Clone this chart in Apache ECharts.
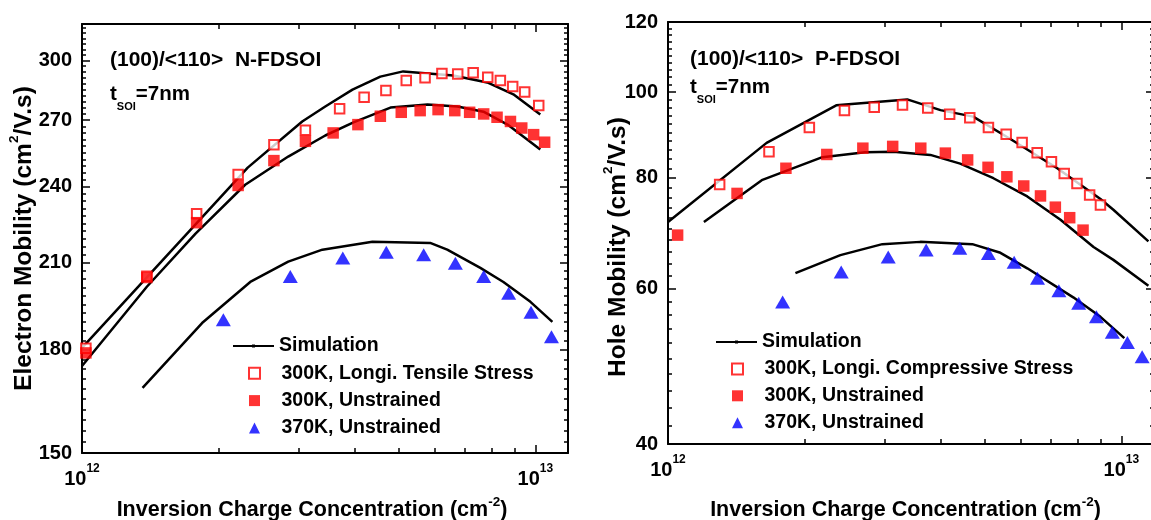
<!DOCTYPE html>
<html>
<head>
<meta charset="utf-8">
<script src="https://cdn.jsdelivr.net/npm/echarts@6/dist/echarts.min.js"></script>
<style>
html, body { margin: 0; padding: 0; background: #fff; }
#chart { width: 1151px; height: 520px; }
</style>
</head>
<body>
<div id="chart"></div>
<script>
const FONT = '"Liberation Sans", Arial, Helvetica, sans-serif';
const E12 = 1e12;   // x values below are in units of 10^12 cm^-2

// ---- (100)/<110> N-FDSOI, electron mobility (cm^2/V.s) ----
const nTensileX = [1.02, 1.39, 1.79, 2.21, 2.65, 3.11, 3.70, 4.19, 4.68, 5.19, 5.71, 6.22, 6.74, 7.29, 7.85, 8.37, 8.91, 9.47, 10.17];
const nTensileY = [180.5, 205.0, 228.9, 245.3, 258.5, 265.2, 275.5, 281.2, 284.6, 289.6, 291.0, 293.2, 293.0, 293.6, 291.3, 289.6, 286.6, 283.8, 277.1];
const nUnstrX = [1.02, 1.39, 1.79, 2.21, 2.65, 3.11, 3.58, 4.06, 4.55, 5.06, 5.57, 6.10, 6.64, 7.16, 7.69, 8.23, 8.81, 9.33, 9.91, 10.48];
const nUnstrY = [179.0, 204.5, 225.3, 240.6, 251.4, 260.1, 264.0, 267.9, 271.9, 273.8, 274.6, 275.1, 274.6, 273.8, 273.0, 271.4, 269.4, 266.3, 263.2, 259.7];
const n370X = [2.05, 2.88, 3.76, 4.69, 5.67, 6.66, 7.69, 8.73, 9.78, 10.85];
const n370Y = [189.8, 204.9, 211.7, 213.8, 212.9, 209.7, 204.9, 198.9, 192.3, 184.2];
const nSimTensileX = [1.00, 2.32, 3.06, 3.44, 3.95, 4.55, 5.11, 6.59, 7.83, 8.94, 10.25];
const nSimTensileY = [180.6, 248.3, 269.4, 276.6, 285.0, 291.6, 294.3, 292.2, 288.6, 282.6, 272.7];
const nSimUnstrX = [1.00, 1.39, 1.78, 2.29, 2.85, 3.44, 3.97, 4.79, 5.78, 6.73, 7.68, 8.68, 10.25];
const nSimUnstrY = [174.9, 201.2, 221.0, 240.9, 253.2, 262.8, 269.0, 276.1, 277.6, 276.6, 274.1, 267.9, 256.4];
const nSim370X = [1.36, 1.84, 2.35, 2.85, 3.39, 4.37, 5.86, 6.39, 7.56, 8.50, 9.75, 10.90];
const nSim370Y = [168.3, 188.7, 202.9, 210.3, 214.8, 217.8, 217.4, 214.8, 208.0, 202.9, 195.9, 189.1];

// ---- (100)/<110> P-FDSOI, hole mobility (cm^2/V.s) ----
const pCompX = [1.30, 1.67, 2.05, 2.45, 2.85, 3.29, 3.74, 4.18, 4.63, 5.09, 5.57, 6.04, 6.52, 7.01, 7.48, 7.98, 8.51, 8.99];
const pCompY = [78.6, 85.6, 91.2, 95.3, 96.1, 96.7, 95.9, 94.4, 93.5, 91.2, 89.6, 87.7, 85.4, 83.4, 80.9, 78.8, 76.5, 74.5];
const pUnstrX = [1.05, 1.42, 1.82, 2.24, 2.69, 3.13, 3.61, 4.09, 4.58, 5.08, 5.59, 6.09, 6.63, 7.15, 7.69, 8.23];
const pUnstrY = [68.9, 76.8, 82.0, 85.0, 86.4, 86.8, 86.4, 85.3, 83.8, 82.2, 80.2, 78.3, 76.3, 74.1, 72.1, 69.8];
const p370X = [1.79, 2.41, 3.06, 3.71, 4.40, 5.09, 5.80, 6.53, 7.28, 8.05, 8.81, 9.55, 10.31, 11.11];
const p370Y = [57.9, 62.6, 65.1, 66.3, 66.6, 65.7, 64.2, 61.6, 59.6, 57.7, 55.7, 53.5, 52.1, 50.2];
const pSimCompX = [1.00, 1.65, 2.35, 3.37, 3.99, 4.71, 5.69, 7.22, 8.99, 9.60, 11.47];
const pSimCompY = [71.3, 87.6, 96.6, 98.1, 95.4, 93.8, 88.5, 82.0, 75.7, 73.6, 67.8];
const pSimUnstrX = [1.20, 1.61, 2.19, 2.72, 3.14, 3.79, 4.41, 5.22, 6.20, 7.34, 8.68, 9.60, 11.47];
const pSimUnstrY = [71.3, 79.5, 84.4, 85.5, 85.6, 84.9, 83.0, 79.9, 76.2, 71.7, 66.8, 64.6, 60.4];
const pSim370X = [1.91, 2.40, 2.97, 3.60, 4.69, 5.41, 6.20, 7.83, 8.99, 10.15];
const pSim370Y = [62.4, 65.4, 67.3, 67.7, 67.3, 65.8, 63.2, 58.6, 55.7, 52.7];

// ---- axis ranges and tick labels ----
const xRange = [1e12, 1.18e13];
const xLabelVals = [1e12, 1e13];
const xMinorVals = [2e12, 3e12, 4e12, 5e12, 6e12, 7e12, 8e12, 9e12];
const nYRange = [150, 320];
const nYLabelVals = [150, 180, 210, 240, 270, 300];
const nYMinorStep = 3;
const pYRange = [40, 120];
const pYLabelVals = [40, 60, 80, 100, 120];
const pYMinorStep = 2;

const lg = Math.log10;
const BLACK = '#000';

function pairs(xs, ys) { return xs.map((x, i) => [x * E12, ys[i]]); }
function stepVals(range, step, skip) {
  const out = [];
  for (let v = range[0] + step; v <= range[1] + 1e-9; v += step) {
    if (skip.indexOf(v) < 0) out.push(v);
  }
  return out;
}

const txt = (size, extra) => Object.assign({ fontFamily: FONT, fontWeight: 'bold', fontSize: size, color: BLACK }, extra || {});

// Tick-only axis in log10 space, carrying the labelled ticks of a log axis.
function tickAxis(gridIndex, position, range, ticks, len, labels, labelOpts, showLine) {
  return {
    type: 'value', gridIndex, position,
    min: lg(range[0]), max: lg(range[1]),
    silent: true,
    axisLine: { show: !!showLine, onZero: false, lineStyle: { color: BLACK, width: 2 } },
    splitLine: { show: false },
    axisTick: { show: true, inside: true, length: len, customValues: ticks.map(lg),
      lineStyle: { color: BLACK, width: 1.5 } },
    axisLabel: labels ? Object.assign({ show: true, customValues: labels.map(lg) }, labelOpts)
                      : { show: false }
  };
}

const xLabelOpts = {
  margin: 10,
  formatter: v => '{b|10}{s|' + Math.round(v) + '}',
  rich: {
    b: txt(20, { verticalAlign: 'bottom', lineHeight: 26 }),
    s: txt(12, { verticalAlign: 'top', lineHeight: 12 })
  }
};
const yLabelOpts = {
  margin: 10,
  formatter: v => String(Math.round(Math.pow(10, v))),
  ...txt(20)
};

const titleRich = size => ({
  a: txt(size, { verticalAlign: 'bottom', lineHeight: size + 5 }),
  s: txt(13.5, { verticalAlign: 'top', lineHeight: 13 })
});

function xAxesFor(gridIndex, nameGap, padRight) {
  return [
    {
      type: 'log', logBase: 10, gridIndex, position: 'bottom',
      min: xRange[0], max: xRange[1],
      axisLine: { show: true, onZero: false, lineStyle: { color: BLACK, width: 2 } },
      axisTick: { show: false }, axisLabel: { show: false }, splitLine: { show: false },
      name: '{a|Inversion Charge Concentration (cm}{s|-2}{a|)}',
      nameLocation: 'middle', nameGap,
      nameTextStyle: { padding: [0, padRight, 0, 0], rich: titleRich(21.5) }
    },
    tickAxis(gridIndex, 'bottom', xRange, xMinorVals, 5, xLabelVals, xLabelOpts, false),
    tickAxis(gridIndex, 'bottom', xRange, xLabelVals, 8, null, null, false),
    tickAxis(gridIndex, 'top', xRange, xMinorVals, 5, null, null, true),
    tickAxis(gridIndex, 'top', xRange, xLabelVals, 8, null, null, false)
  ];
}

function yAxesFor(gridIndex, range, labelVals, minorStep, name, nameGap, padRight) {
  const minor = stepVals(range, minorStep, labelVals);
  return [
    {
      type: 'log', logBase: 10, gridIndex, position: 'left',
      min: range[0], max: range[1],
      axisLine: { show: true, onZero: false, lineStyle: { color: BLACK, width: 2 } },
      axisTick: { show: false }, axisLabel: { show: false }, splitLine: { show: false },
      name, nameLocation: 'middle', nameGap,
      nameTextStyle: { padding: [0, padRight, 0, 0], rich: titleRich(24.5) }
    },
    tickAxis(gridIndex, 'left', range, minor, 4, labelVals, yLabelOpts, false),
    tickAxis(gridIndex, 'left', range, labelVals, 8, null, null, false),
    tickAxis(gridIndex, 'right', range, minor, 4, null, null, true),
    tickAxis(gridIndex, 'right', range, labelVals, 8, null, null, false)
  ];
}

function simLine(gridIndex, xs, ys) {
  return {
    name: 'Simulation', type: 'line', xAxisIndex: gridIndex * 5, yAxisIndex: gridIndex * 5,
    data: pairs(xs, ys), symbol: 'circle', symbolSize: 4, showSymbol: false,
    lineStyle: { color: BLACK, width: 2.5 }, itemStyle: { color: BLACK }, z: 2, silent: true
  };
}
function openSquares(gridIndex, name, xs, ys) {
  return {
    name, type: 'scatter', xAxisIndex: gridIndex * 5, yAxisIndex: gridIndex * 5,
    data: pairs(xs, ys), symbol: 'rect', symbolSize: 9.5,
    itemStyle: { color: '#fff', borderColor: '#ff0000', borderWidth: 2 }, z: 3
  };
}
function filledSquares(gridIndex, name, xs, ys) {
  return {
    name, type: 'scatter', xAxisIndex: gridIndex * 5, yAxisIndex: gridIndex * 5,
    data: pairs(xs, ys), symbol: 'rect', symbolSize: 11.5,
    itemStyle: { color: '#ff0000' }, z: 4
  };
}
function triangles(gridIndex, name, xs, ys) {
  return {
    name, type: 'scatter', xAxisIndex: gridIndex * 5, yAxisIndex: gridIndex * 5,
    data: pairs(xs, ys), symbol: 'triangle', symbolSize: [15, 13],
    itemStyle: { color: '#0000ff' }, z: 5
  };
}

// Legend icon for the simulation curves: a line with a small dot in the middle.
const SIM_ICON = 'path://M0,0L0.01,0L0,0.01Z M0,5H41V7H0Z M19,4.5H22V7.5H19Z M41,12L40.99,12L41,11.99Z';

// Each panel's key: one block for the simulation curve, one for the measured symbols.
function legendsFor(left, top, gap, labels) {
  const textStyle = txt(19.5, { lineHeight: 20 });
  const symbolLeft = left + 20.5 - 5.5;
  return [
    {
      left, top, orient: 'vertical', padding: 0,
      itemWidth: 41, itemHeight: 12, selectedMode: false, textStyle,
      data: [{ name: 'Simulation', icon: SIM_ICON }]
    },
    {
      left: symbolLeft, top: top + 20 + gap, orient: 'vertical', padding: 0, itemGap: gap,
      itemWidth: 11, itemHeight: 11, selectedMode: false,
      textStyle: Object.assign({}, textStyle, { padding: [0, 0, 0, left + 41 - symbolLeft - 11 + 1.5] }),
      data: labels
    }
  ];
}

function annotation(left, top, subTop, material) {
  return [
    { type: 'text', left, top, silent: true,
      style: { text: '(100)/<110>  ' + material, fontFamily: FONT, fontWeight: 'bold', fontSize: 21, fill: BLACK } },
    { type: 'text', left, top: subTop, silent: true,
      style: {
        text: '{a|t}{s|SOI}{a|=7nm}',
        rich: {
          a: { fontFamily: FONT, fontWeight: 'bold', fontSize: 20.5, fill: BLACK, verticalAlign: 'top', lineHeight: 22 },
          s: { fontFamily: FONT, fontWeight: 'bold', fontSize: 11, fill: BLACK, verticalAlign: 'bottom', lineHeight: 28 }
        }
      } }
  ];
}

const chart = echarts.init(document.getElementById('chart'), null, { renderer: 'canvas' });
chart.setOption({
  animation: false,
  backgroundColor: '#fff',
  grid: [
    { left: 82, top: 24, width: 486, height: 429, outerBoundsMode: 'none', containLabel: false },
    { left: 668, top: 22, width: 486, height: 422, outerBoundsMode: 'none', containLabel: false }
  ],
  xAxis: xAxesFor(0, 42, 26).concat(xAxesFor(1, 51, 11)),
  yAxis: yAxesFor(0, nYRange, nYLabelVals, nYMinorStep,
                  '{a|Electron Mobility (cm}{s|2}{a|/V.s)}', 45, 0)
    .concat(yAxesFor(1, pYRange, pYLabelVals, pYMinorStep,
                  '{a|Hole Mobility (cm}{s|2}{a|/V.s)}', 37, 28)),
  legend: legendsFor(233, 336, 7.3, ['300K, Longi. Tensile Stress', '300K, Unstrained', '370K, Unstrained'])
    .concat(legendsFor(716, 332, 6.9, ['300K, Longi. Compressive Stress', '300K, Unstrained', '370K, Unstrained'])),
  graphic: annotation(110, 50, 84, 'N-FDSOI').concat(annotation(690, 49, 77, 'P-FDSOI')),
  series: [
    simLine(0, nSimTensileX, nSimTensileY),
    simLine(0, nSimUnstrX, nSimUnstrY),
    simLine(0, nSim370X, nSim370Y),
    openSquares(0, '300K, Longi. Tensile Stress', nTensileX, nTensileY),
    filledSquares(0, '300K, Unstrained', nUnstrX, nUnstrY),
    triangles(0, '370K, Unstrained', n370X, n370Y),
    simLine(1, pSimCompX, pSimCompY),
    simLine(1, pSimUnstrX, pSimUnstrY),
    simLine(1, pSim370X, pSim370Y),
    openSquares(1, '300K, Longi. Compressive Stress', pCompX, pCompY),
    filledSquares(1, '300K, Unstrained', pUnstrX, pUnstrY),
    triangles(1, '370K, Unstrained', p370X, p370Y)
  ]
});
</script>
</body>
</html>
